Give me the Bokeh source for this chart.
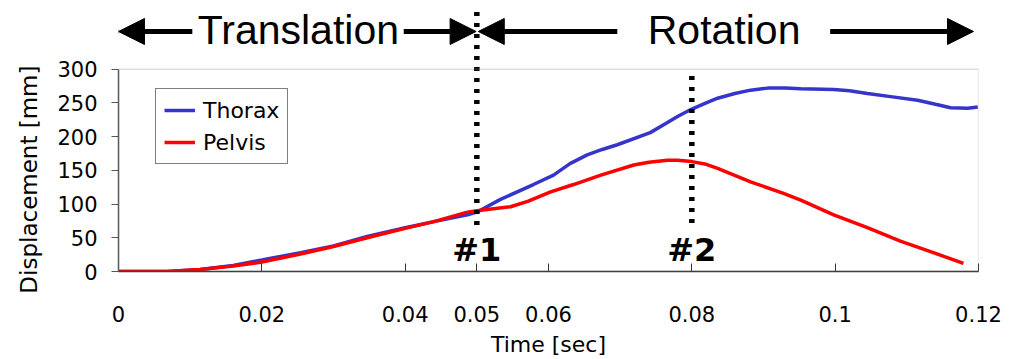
import math
from bokeh.plotting import figure
from bokeh.models import (Range1d, FixedTicker, Label, Arrow, NormalHead,
                          BoxAnnotation, Legend, LegendItem, Title)
from bokeh.embed import file_html
from bokeh.resources import INLINE

# ---- data ----
thorax_t = [0, 0.005, 0.0068, 0.0114, 0.016, 0.020, 0.0254, 0.030, 0.0347, 0.040,
            0.044, 0.0487, 0.050, 0.0533, 0.0579, 0.0607, 0.063, 0.0654, 0.0675,
            0.0696, 0.0742, 0.0766, 0.078, 0.080, 0.082, 0.0836, 0.086, 0.0882,
            0.0906, 0.093, 0.0952, 0.0998, 0.102, 0.1045, 0.108, 0.1115, 0.114,
            0.1161, 0.1185, 0.1199]
thorax_v = [0, 0, 0, 3, 9, 17, 28, 38, 52, 65,
            74, 84, 88, 107, 129, 143, 160, 173, 181,
            188, 206, 221, 230, 241, 250, 257, 264, 269,
            272, 272, 271, 270, 268, 264, 259, 254, 248,
            243, 242, 244]
pelvis_t = [0, 0.005, 0.0068, 0.0114, 0.016, 0.020, 0.0254, 0.030, 0.0347, 0.040,
            0.044, 0.0487, 0.050, 0.0547, 0.0571, 0.0603, 0.0635, 0.0673, 0.0719,
            0.074, 0.0766, 0.078, 0.080, 0.082, 0.0836, 0.0882, 0.0928, 0.0952,
            0.0998, 0.1045, 0.1091, 0.1137, 0.1179]
pelvis_v = [0, 0, 0, 3, 8, 14, 26, 37, 50, 64,
            74, 88, 90, 96, 104, 118, 129, 143, 158,
            162, 165, 165, 163, 159, 153, 133, 116, 106,
            84, 65, 45, 28, 12]

x_ticks = [0, 0.02, 0.04, 0.05, 0.06, 0.08, 0.1, 0.12]
x_tick_labels = ["0", "0.02", "0.04", "0.05", "0.06", "0.08", "0.1", "0.12"]
y_ticks = [0, 50, 100, 150, 200, 250, 300]

events_t = [0.05, 0.08]
event_names = ["#1", "#2"]
phase_names = ["Translation", "Rotation"]

Y_TOP = 390.1

p = figure(width=1009, height=359, output_backend="svg", toolbar_location=None,
           x_range=Range1d(0, 0.12), y_range=Range1d(0, Y_TOP),
           min_border_left=118, min_border_right=31, min_border_top=8,
           min_border_bottom=87)
p.outline_line_color = None
p.xgrid.visible = False
p.ygrid.visible = False
p.background_fill_color = "white"
p.border_fill_color = "white"

# plot-area border
p.add_layout(BoxAnnotation(left=0, right=0.12, bottom=0, top=300,
                           fill_alpha=0, line_color="#8c8c8c", line_width=1.5))

AX_FONT = "DejaVu Sans"

xa = p.xaxis[0]
xa.ticker = FixedTicker(ticks=x_ticks)
xa.major_label_overrides = {t: s for t, s in zip(x_ticks, x_tick_labels)}
xa.bounds = (0, 0.12)
xa.major_tick_in = 8
xa.major_tick_out = 0
xa.minor_tick_line_color = None
xa.axis_line_color = "#333333"
xa.major_tick_line_color = "#333333"
xa.axis_line_width = 1.5
xa.major_label_text_font = AX_FONT
xa.major_label_text_font_size = "21px"
xa.major_label_text_color = "black"
xa.major_label_standoff = 34
xa.axis_label = "Time [sec]"
xa.axis_label_text_font = AX_FONT
xa.axis_label_text_font_size = "22px"
xa.axis_label_text_font_style = "normal"
xa.axis_label_text_color = "black"
xa.axis_label_standoff = 7

ya = p.yaxis[0]
ya.ticker = FixedTicker(ticks=y_ticks)
ya.bounds = (0, 300)
ya.major_tick_in = 0
ya.major_tick_out = 7
ya.minor_tick_line_color = None
ya.axis_line_color = "#555555"
ya.major_tick_line_color = "#555555"
ya.axis_line_width = 1.5
ya.major_label_text_font = AX_FONT
ya.major_label_text_font_size = "21px"
ya.major_label_text_color = "black"
ya.major_label_standoff = 14

# y axis title as a left-side title, ending near the top of the 0..300 range
p.add_layout(Title(text="Displacement [mm]", align="right", offset=57,
                   text_font=AX_FONT, text_font_size="23px",
                   text_font_style="normal", text_color="black", standoff=26),
             "left")

r_th = p.line(thorax_t, thorax_v, line_color="#3535CC", line_width=3.5)
r_pe = p.line(pelvis_t, pelvis_v, line_color="#FF0000", line_width=3.5)

legend = Legend(items=[LegendItem(label="Thorax", renderers=[r_th]),
                       LegendItem(label="Pelvis", renderers=[r_pe])],
                location=(37, 107), orientation="vertical")
legend.label_text_font = AX_FONT
legend.label_text_font_size = "22px"
legend.label_text_color = "black"
legend.border_line_color = "black"
legend.border_line_width = 1
legend.background_fill_color = "white"
legend.background_fill_alpha = 1
legend.glyph_width = 31
legend.glyph_height = 26
legend.label_height = 26
legend.label_standoff = 8
legend.padding = 8
legend.spacing = 6
legend.margin = 0
p.add_layout(legend)

# event dotted lines
dot_top = [388, 296]
dot_bot = [69, 72]
p.segment(x0=events_t, y0=dot_bot, x1=events_t, y1=dot_top,
          line_color="black", line_width=5.5, line_dash="4 7", line_cap="butt")
for t, name in zip(events_t, event_names):
    p.add_layout(Label(x=t, y=32, text=name, text_align="center",
                       text_baseline="alphabetic", text_font="DejaVu Sans",
                       text_font_style="bold", text_font_size="32px",
                       text_color="black"))

# phase arrows
arrow_y = 356
arrows = [(0.0103, 0.0), (0.0398, 0.0499), (0.0696, 0.0502), (0.0993, 0.1193)]
for xs, xe in arrows:
    p.add_layout(Arrow(x_start=xs, y_start=arrow_y, x_end=xe, y_end=arrow_y,
                       line_color="black", line_width=5,
                       end=NormalHead(size=26, fill_color="black",
                                      line_color="black", line_width=1)))

for xc, name in zip([0.0251, 0.0845], phase_names):
    p.add_layout(Label(x=xc, y=358.5, text=name, text_align="center",
                       text_baseline="alphabetic", text_font="Liberation Sans",
                       text_font_size="41px", text_color="black"))

open("out.html", "w").write(file_html(p, INLINE))
